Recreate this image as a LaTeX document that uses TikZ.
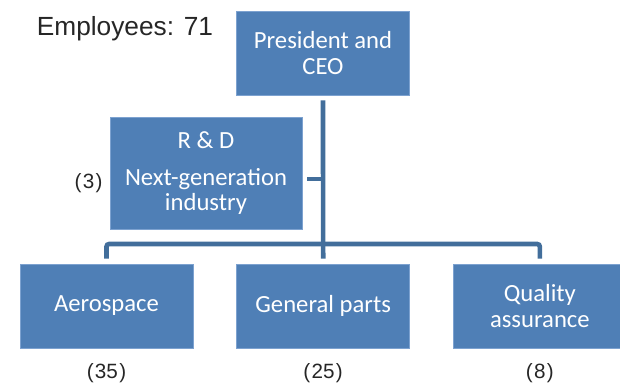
\documentclass[tikz,border=0pt]{standalone}
\usepackage{fontspec}
\setmainfont{Carlito}
\newfontfamily\headfont{Liberation Sans}
\usetikzlibrary{positioning,calc}
\definecolor{unitblue}{RGB}{79,127,182}
\definecolor{unitedge}{RGB}{125,162,208}
\definecolor{linkblue}{RGB}{66,110,155}

\begin{document}
\begin{tikzpicture}[x=0.75pt,y=-0.75pt,
  unit/.style={rectangle,fill=unitblue,draw=unitedge,line width=0.5pt,text=white,align=center,
    font=\fontsize{18.5}{19}\selectfont,minimum width=129.75pt,minimum height=63pt,inner sep=0pt},
  count/.style={font=\headfont\fontsize{15.5}{17}\selectfont,text=black!85,inner sep=1pt},
  link/.style={draw=linkblue,line width=3.5pt}]
\useasboundingbox (0,0) rectangle (620,382);

\node[anchor=base,font=\headfont\fontsize{19.7}{22}\selectfont,text=black!85] (staff) at (125,35) {Employees: 71};

\node[unit] (ceo) at (323,53) {President and\\CEO};
\node[unit,minimum width=144pt,minimum height=84pt] (rd) at (206,173) {R \& D\\[9pt]Next-generation\\industry};
\node[unit] (aero) at (106.5,306) {Aerospace};
\node[unit,right=32.25pt of aero] (parts) {General parts};
\node[unit,right=32.25pt of parts] (qa) {Quality\\assurance};

\node[count] (n3) at ($(rd.west)+(-21,10)$) {(\kern1pt3\kern1pt)};
\node[count] (n35) at ([yshift=-18.5pt]aero.south) {(\kern1pt35\kern1pt)};
\node[count] (n25) at ([yshift=-18.5pt]parts.south) {(\kern1pt25\kern1pt)};
\node[count] (n8) at ([yshift=-18.5pt]qa.south) {(\kern1pt8\kern1pt)};

\coordinate (bus) at (323,244);
\draw[link] ([yshift=-3.75pt]ceo.south) -- ([yshift=3.75pt]parts.north);
\draw[link,rounded corners=2pt] ([yshift=3.75pt]aero.north) |- (bus) -| ([yshift=3.75pt]qa.north);
\draw[link] ($(rd.east)+(5,6)$) -- ($(ceo.south |- rd.east)+(0,6)$);
\end{tikzpicture}
\end{document}
